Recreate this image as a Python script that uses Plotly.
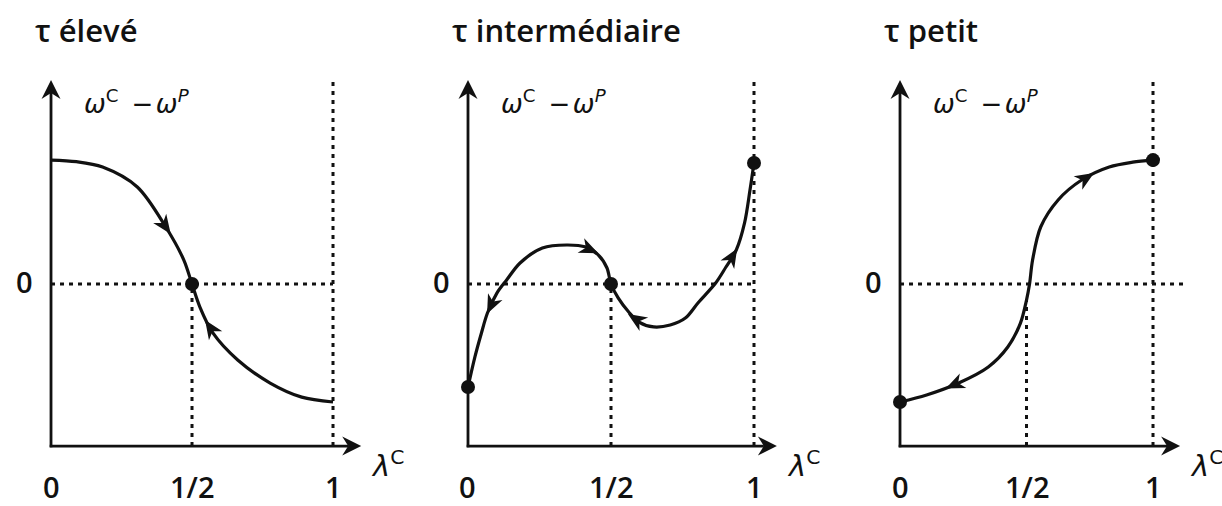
import math
import numpy as np
import plotly.graph_objects as go

# ---------------- data ----------------
titles = ["τ élevé", "τ intermédiaire", "τ petit"]
x_tickvals = [0, 0.5, 1]
x_ticktext = ["0", "1/2", "1"]
y_tickval = 0
y_ticktext = "0"
y_label = "<i>ω</i><sup>C</sup>\u2002−\u200a<i>ω</i><sup><i>P</i></sup>"
x_label = "<i>λ</i><sup>C</sup>"

# panel 1 : tau high
p1_x = [0, 0.09, 0.183, 0.306, 0.407, 0.471, 0.5, 0.528, 0.574, 0.662, 0.777, 0.889, 1.0]
p1_y = [0.765, 0.755, 0.722, 0.599, 0.352, 0.148, 0.0, -0.142, -0.302, -0.469, -0.611, -0.698, -0.728]
p1_dots_x = [0.5]
p1_dots_y = [0.0]
p1_arrow_head = [0.405, 0.565]
p1_arrow_tail = [0.385, 0.585]

# panel 2 : tau intermediate
p2_x = [0, 0.024, 0.047, 0.068, 0.101, 0.135, 0.182, 0.26, 0.345, 0.412, 0.456, 0.486, 0.5,
        0.525, 0.562, 0.598, 0.649, 0.707, 0.76, 0.804, 0.866, 0.902, 0.938, 0.967, 0.986, 1.0]
p2_y = [-0.636, -0.451, -0.302, -0.179, -0.056, 0.025, 0.13, 0.222, 0.241, 0.228, 0.179, 0.099, 0.0,
        -0.086, -0.173, -0.235, -0.265, -0.253, -0.21, -0.117, 0.006, 0.105, 0.21, 0.377, 0.58, 0.747]
p2_dots_x = [0, 0.5, 1]
p2_dots_y = [-0.636, 0.0, 0.747]
p2_arrow_head = [0.081, 0.425, 0.587, 0.924]
p2_arrow_tail = [0.095, 0.405, 0.610, 0.910]

# panel 3 : tau small
p3_x = [0, 0.105, 0.232, 0.349, 0.426, 0.476, 0.5, 0.512, 0.524, 0.556, 0.625, 0.718, 0.827, 0.92, 1.0]
p3_y = [-0.728, -0.685, -0.611, -0.512, -0.389, -0.241, -0.099, 0.0, 0.148, 0.352, 0.519, 0.642, 0.722, 0.752, 0.765]
p3_dots_x = [0, 1]
p3_dots_y = [-0.728, 0.765]
p3_arrow_head = [0.215, 0.735]
p3_arrow_tail = [0.245, 0.705]

panels = [
    dict(x=p1_x, y=p1_y, dx=p1_dots_x, dy=p1_dots_y, ah=p1_arrow_head, at=p1_arrow_tail,
         hline_end=1.0, mid_to_curve=False, x_right=1.1),
    dict(x=p2_x, y=p2_y, dx=p2_dots_x, dy=p2_dots_y, ah=p2_arrow_head, at=p2_arrow_tail,
         hline_end=1.0, mid_to_curve=False, x_right=1.08),
    dict(x=p3_x, y=p3_y, dx=p3_dots_x, dy=p3_dots_y, ah=p3_arrow_head, at=p3_arrow_tail,
         hline_end=1.13, mid_to_curve=True, x_right=1.107),
]

# ---------------- layout geometry ----------------
W, H = 1222, 506
x_domains = [[0, 410 / W], [410 / W, 815 / W], [815 / W, 1.0]]
x_ranges = [[-0.1809, 1.2730], [-0.2028, 1.2133], [-0.3360, 1.2727]]
y_range = [-1.370, 1.753]
y_bottom = -1.0      # position of horizontal axis
y_top = 1.26         # tip of vertical axis arrow
v_top = 1.27         # top of dotted line at x = 1

INK = "#111111"
FONT = "Open Sans, Noto Sans, DejaVu Sans, sans-serif"
MATH_FONT = "DejaVu Sans, Open Sans, sans-serif"


def px_scale(i):
    sx = (x_domains[i][1] - x_domains[i][0]) * W / (x_ranges[i][1] - x_ranges[i][0])
    sy = H / (y_range[1] - y_range[0])
    return sx, sy


def head_path(theta, L, hw, notch, tip_at_anchor):
    tipx = 0.0 if tip_at_anchor else L / 2.0
    back = tipx - L
    pts = [(tipx, 0.0), (back, hw), (back + notch, 0.0), (back, -hw)]
    c, s = math.cos(theta), math.sin(theta)
    rp = [(x * c - y * s, x * s + y * c) for x, y in pts]
    return "M" + " L".join(f"{x:.2f},{y:.2f}" for x, y in rp) + " Z"


fig = go.Figure()
annotations = []
shapes = []

for i, p in enumerate(panels):
    xr = "x" if i == 0 else f"x{i+1}"
    yr = "y" if i == 0 else f"y{i+1}"
    sx, sy = px_scale(i)
    x_right = p["x_right"]
    dot_style = dict(color=INK, width=3, dash="4px,5px")

    # dotted reference lines
    fig.add_trace(go.Scatter(x=[x_tickvals[0], p["hline_end"]], y=[y_tickval, y_tickval],
                             mode="lines", line=dot_style, xaxis=xr, yaxis=yr, hoverinfo="skip"))
    fig.add_trace(go.Scatter(x=[x_tickvals[2], x_tickvals[2]], y=[y_bottom, v_top],
                             mode="lines", line=dot_style, xaxis=xr, yaxis=yr, hoverinfo="skip"))
    mid_top = float(np.interp(x_tickvals[1], p["x"], p["y"])) if p["mid_to_curve"] else y_tickval
    fig.add_trace(go.Scatter(x=[x_tickvals[1], x_tickvals[1]], y=[y_bottom, mid_top],
                             mode="lines", line=dot_style, xaxis=xr, yaxis=yr, hoverinfo="skip"))

    # axes (lines stop at the arrow-head notch)
    ax_L, ax_hw, ax_notch = 19, 9.5, 6
    fig.add_trace(go.Scatter(x=[0, 0], y=[y_bottom - 1.3 / sy, y_top - (ax_L - ax_notch) / sy],
                             mode="lines", line=dict(color=INK, width=2.8),
                             xaxis=xr, yaxis=yr, hoverinfo="skip"))
    fig.add_trace(go.Scatter(x=[-1.3 / sx, x_right - (ax_L - ax_notch) / sx], y=[y_bottom, y_bottom],
                             mode="lines", line=dict(color=INK, width=2.8),
                             xaxis=xr, yaxis=yr, hoverinfo="skip"))
    for (hx, hy, th) in [(0, y_top, math.pi / 2), (x_right, y_bottom, 0.0)]:
        shapes.append(dict(type="path", xref=xr, yref=yr, xsizemode="pixel", ysizemode="pixel",
                           xanchor=hx, yanchor=hy, path=head_path(th, ax_L, ax_hw, ax_notch, True),
                           fillcolor=INK, line=dict(width=0), layer="above"))

    # curve
    fig.add_trace(go.Scatter(x=p["x"], y=p["y"], mode="lines",
                             line=dict(color=INK, width=3.2, shape="spline", smoothing=0.9),
                             xaxis=xr, yaxis=yr, hoverinfo="skip"))
    # equilibrium dots
    fig.add_trace(go.Scatter(x=p["dx"], y=p["dy"], mode="markers",
                             marker=dict(color=INK, size=14), xaxis=xr, yaxis=yr, hoverinfo="skip"))

    # direction arrows on the curve
    for h, t in zip(p["ah"], p["at"]):
        hy = float(np.interp(h, p["x"], p["y"]))
        ty = float(np.interp(t, p["x"], p["y"]))
        th = math.atan2((hy - ty) * sy, (h - t) * sx)
        shapes.append(dict(type="path", xref=xr, yref=yr, xsizemode="pixel", ysizemode="pixel",
                           xanchor=h, yanchor=hy, path=head_path(th, 19, 8, 5.5, False),
                           fillcolor=INK, line=dict(width=0), layer="above"))

    # tick labels
    for tv, tt in zip(x_tickvals, x_ticktext):
        annotations.append(dict(x=tv, y=-1.247, xref=xr, yref=yr, text=tt, showarrow=False,
                                xanchor="center", yanchor="middle",
                                font=dict(family=FONT, size=29, color=INK, weight=600)))
    annotations.append(dict(x=0, y=y_tickval, xref=xr, yref=yr, text=y_ticktext, showarrow=False,
                            xanchor="right", yanchor="middle", xshift=-16, yshift=3,
                            font=dict(family=FONT, size=29, color=INK, weight=600)))
    # axis labels
    annotations.append(dict(x=0, y=1.123, xref=xr, yref=yr, text=y_label, showarrow=False,
                            xanchor="left", yanchor="middle", xshift=31,
                            font=dict(family=MATH_FONT, size=26, color=INK)))
    annotations.append(dict(x=x_right, y=-1.111, xref=xr, yref=yr, text=x_label, showarrow=False,
                            xanchor="left", yanchor="middle", xshift=8,
                            font=dict(family=MATH_FONT, size=29, color=INK)))
    # panel title
    annotations.append(dict(x=0, y=1.57, xref=xr, yref=yr, text=titles[i], showarrow=False,
                            xanchor="left", yanchor="middle", xshift=-18,
                            font=dict(family=FONT, size=31, color=INK, weight=600)))

layout = dict(
    width=W, height=H, autosize=False,
    margin=dict(l=0, r=0, t=0, b=0, pad=0),
    paper_bgcolor="white", plot_bgcolor="white",
    showlegend=False,
    annotations=annotations,
    shapes=shapes,
)
for i in range(3):
    kx = "xaxis" if i == 0 else f"xaxis{i+1}"
    ky = "yaxis" if i == 0 else f"yaxis{i+1}"
    layout[kx] = dict(domain=x_domains[i], range=x_ranges[i], visible=False,
                      anchor="y" if i == 0 else f"y{i+1}")
    layout[ky] = dict(domain=[0, 1], range=y_range, visible=False,
                      anchor="x" if i == 0 else f"x{i+1}")
fig.update_layout(**layout)

fig.write_html("out.html", config={"displayModeBar": False},
               post_script="document.body.style.margin='0';")
